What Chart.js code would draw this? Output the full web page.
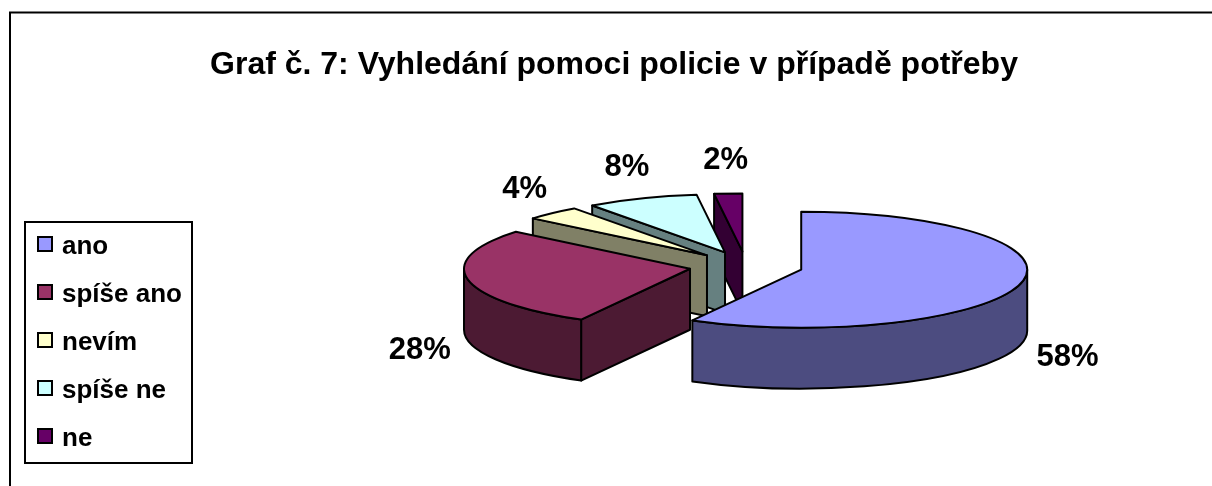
<!DOCTYPE html>
<html>
<head>
<meta charset="utf-8">
<script src="https://cdn.jsdelivr.net/npm/chart.js@4.4.1/dist/chart.umd.min.js"></script>
<style>
  html, body { margin: 0; padding: 0; background: #ffffff; }
  #wrap { width: 1212px; height: 486px; position: relative; overflow: hidden; }
  canvas { display: block; }
</style>
</head>
<body>
<div id="wrap"><canvas id="chart" width="1212" height="486"></canvas></div>
<script>
// ---- data ----
const titleText = 'Graf č. 7: Vyhledání pomoci policie v případě potřeby';
const categories = ['ano', 'spíše ano', 'nevím', 'spíše ne', 'ne'];
const values = [58, 28, 4, 8, 2];
const percentLabels = ['58%', '28%', '4%', '8%', '2%'];
const topColors = ['#9999FF', '#993366', '#FFFFCC', '#CCFFFF', '#660066'];
const sideColors = ['#4C4C80', '#4C1A33', '#808066', '#668080', '#330033'];

// ---- 3D look ----
const SQUASH = 58 / 226;   // vertical squash of the pie disc
const DEPTH = 61;          // wall height in px
const EXPLODE = 57;        // explosion distance (top-view px)
const LABEL_GAP = 18;
const FONT = '"Liberation Sans", Arial, Helvetica, sans-serif';

function sliceGeom(arc) {
  const p = arc.getProps(['x', 'y', 'startAngle', 'endAngle', 'outerRadius']);
  const mid = (p.startAngle + p.endAngle) / 2;
  const ox = Math.cos(mid) * EXPLODE;
  const oy = Math.sin(mid) * EXPLODE * SQUASH;
  return {
    x0: p.x, y0: p.y, ox, oy,
    cx: p.x + ox, cy: p.y + oy,
    rx: p.outerRadius, ry: p.outerRadius * SQUASH,
    s: p.startAngle, e: p.endAngle, mid
  };
}

const pie3d = {
  id: 'pie3d',
  beforeDraw(chart) {
    const ctx = chart.ctx;
    ctx.save();
    ctx.fillStyle = '#ffffff';
    ctx.fillRect(0, 0, chart.width, chart.height);
    // outer frame (extends beyond the right and bottom edges)
    ctx.strokeStyle = '#000';
    ctx.lineWidth = 2;
    ctx.strokeRect(10, 12.5, 1260, 520);
    ctx.restore();
  },
  beforeDatasetDraw() { return false; },
  afterDatasetsDraw(chart) {
    const ctx = chart.ctx;
    const meta = chart.getDatasetMeta(0);
    const items = meta.data.map((arc, i) => ({ arc, i, g: sliceGeom(arc) }));
    items.sort((a, b) => Math.sin(a.g.mid) - Math.sin(b.g.mid));
    ctx.save();
    ctx.lineWidth = 2;
    ctx.strokeStyle = '#000';
    ctx.lineJoin = 'round';
    items.forEach(({ arc, i, g }) => {
      const { cx, cy, rx, ry, s, e } = g;
      ctx.fillStyle = sideColors[i];
      // radial walls facing the viewer
      const faces = [];
      if (Math.cos(s) < -1e-6) faces.push(s);
      if (Math.cos(e) > 1e-6) faces.push(e);
      faces.forEach(a => {
        const x = cx + rx * Math.cos(a), y = cy + ry * Math.sin(a);
        ctx.beginPath();
        ctx.moveTo(cx, cy);
        ctx.lineTo(x, y);
        ctx.lineTo(x, y + DEPTH);
        ctx.lineTo(cx, cy + DEPTH);
        ctx.closePath();
        ctx.fill();
        ctx.stroke();
      });
      // outer curved wall (front half only)
      const fs = Math.max(s, 0), fe = Math.min(e, Math.PI);
      if (fe > fs) {
        ctx.beginPath();
        ctx.ellipse(cx, cy, rx, ry, 0, fs, fe, false);
        ctx.lineTo(cx + rx * Math.cos(fe), cy + ry * Math.sin(fe) + DEPTH);
        ctx.ellipse(cx, cy + DEPTH, rx, ry, 0, fe, fs, true);
        ctx.closePath();
        ctx.fill();
        ctx.stroke();
      }
      // top face: the library's own arc, squashed into an ellipse
      ctx.save();
      ctx.translate(g.ox, g.oy);
      ctx.translate(g.x0, g.y0);
      ctx.scale(1, SQUASH);
      ctx.translate(-g.x0, -g.y0);
      arc.draw(ctx);
      ctx.restore();
      // top outline
      ctx.beginPath();
      ctx.moveTo(cx, cy);
      ctx.ellipse(cx, cy, rx, ry, 0, s, e, false);
      ctx.closePath();
      ctx.stroke();
    });
    ctx.restore();

    // percentage labels
    ctx.save();
    ctx.font = 'bold 31px ' + FONT;
    ctx.fillStyle = '#000';
    ctx.textAlign = 'center';
    ctx.textBaseline = 'middle';
    items.forEach(({ i, g }) => {
      const c = Math.cos(g.mid), sn = Math.sin(g.mid);
      const w = ctx.measureText(percentLabels[i]).width;
      const th = 26;
      let x = g.cx + (g.rx + LABEL_GAP) * c + c * w / 2;
      let y = g.cy + g.ry * sn + (LABEL_GAP + 2) * sn + sn * th / 2;
      if (sn > 0) y += DEPTH + 4;
      ctx.fillText(percentLabels[i], x, y);
    });
    ctx.restore();
  },
  afterDraw(chart) {
    const ctx = chart.ctx;
    ctx.save();
    // title
    ctx.font = 'bold 32px ' + FONT;
    ctx.fillStyle = '#000';
    ctx.textAlign = 'center';
    ctx.textBaseline = 'alphabetic';
    ctx.fillText(titleText, 614, 74);
    // legend
    ctx.lineWidth = 2;
    ctx.strokeStyle = '#000';
    ctx.strokeRect(25, 222, 167, 241);
    ctx.font = 'bold 26px ' + FONT;
    ctx.textAlign = 'left';
    categories.forEach((cat, i) => {
      const yc = 244 + i * 48;
      ctx.fillStyle = topColors[i];
      ctx.fillRect(38, yc - 7, 14, 14);
      ctx.strokeRect(38, yc - 7, 14, 14);
      ctx.fillStyle = '#000';
      ctx.fillText(cat, 62, yc + 9.5);
    });
    ctx.restore();
  }
};

new Chart(document.getElementById('chart'), {
  type: 'pie',
  data: {
    labels: categories,
    datasets: [{
      data: values,
      backgroundColor: topColors,
      borderWidth: 0,
      offset: 0,
      hoverOffset: 0,
      radius: 226
    }]
  },
  options: {
    responsive: false,
    animation: false,
    events: [],
    layout: { padding: { left: 300, right: 20, top: 56, bottom: 10 } },
    plugins: {
      legend: { display: false },
      title: { display: false },
      tooltip: { enabled: false }
    }
  },
  plugins: [pie3d]
});
</script>
</body>
</html>
